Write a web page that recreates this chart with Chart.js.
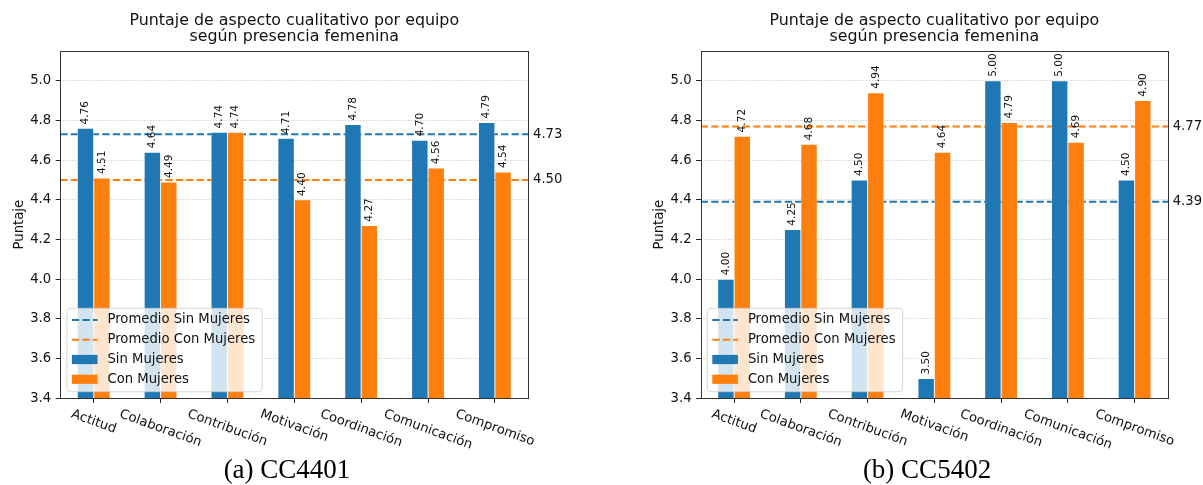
<!DOCTYPE html>
<html lang="es">
<head>
<meta charset="utf-8">
<title>Puntaje de aspecto cualitativo por equipo</title>
<script src="https://cdn.jsdelivr.net/npm/chart.js@4.4.0/dist/chart.umd.min.js"></script>
<style>
  html, body { margin: 0; padding: 0; background: #fff; }
  #page { position: relative; width: 1203px; height: 485px; overflow: hidden; }
  canvas { position: absolute; top: 0; }
  #graficoA { left: 0; }
  #graficoB { left: 600px; }
  .caption {
    position: absolute; top: 456px;
    font-family: 'Liberation Serif', 'DejaVu Serif', serif;
    font-size: 27px; line-height: 27px; color: #000;
    white-space: nowrap; transform: translateX(-50%);
  }
</style>
</head>
<body>
<div id="page">
  <canvas id="graficoA" width="600" height="485"></canvas>
  <canvas id="graficoB" width="603" height="485"></canvas>
  <div class="caption" style="left:287px">(a) CC4401</div>
  <div class="caption" style="left:927px">(b) CC5402</div>
</div>
<script>
// ---- data ----
const categorias = ['Actitud', 'Colaboración', 'Contribución', 'Motivación', 'Coordinación', 'Comunicación', 'Compromiso'];

const sinMujeresCC4401 = [4.76, 4.64, 4.74, 4.71, 4.78, 4.70, 4.79];
const conMujeresCC4401 = [4.51, 4.49, 4.74, 4.40, 4.27, 4.56, 4.54];
const promedioSinCC4401 = 4.73;
const promedioConCC4401 = 4.50;

const sinMujeresCC5402 = [4.00, 4.25, 4.50, 3.50, 5.00, 5.00, 4.50];
const conMujeresCC5402 = [4.72, 4.68, 4.94, 4.64, 4.79, 4.69, 4.90];
const promedioSinCC5402 = 4.39;
const promedioConCC5402 = 4.77;

const yTicks = [3.4, 3.6, 3.8, 4.0, 4.2, 4.4, 4.6, 4.8, 5.0];
const yMin = 3.4;
const yMax = 5.15;

const titulo = ['Puntaje de aspecto cualitativo por equipo', 'según presencia femenina'];
const etiquetaY = 'Puntaje';

// ---- style ----
const AZUL = '#1f77b4';
const NARANJA = '#ff7f0e';
const TEXTO = '#111';
const FUENTE = '"DejaVu Sans", sans-serif';
const PT = 1.32;            // px per typographic point at this size

Chart.defaults.font.family = FUENTE;
Chart.defaults.color = TEXTO;

// frame around the plotting area (all four spines)
const marcoPlugin = {
  id: 'marco',
  afterDraw(chart) {
    const { ctx, chartArea: a } = chart;
    ctx.save();
    ctx.strokeStyle = '#333';
    ctx.lineWidth = 1;
    const l = Math.round(a.left) + 0.5, t = Math.round(a.top) + 0.5;
    const r = Math.round(a.right) + 0.5, b = Math.round(a.bottom) + 0.5;
    ctx.strokeRect(l, t, r - l, b - t);
    ctx.restore();
  }
};

// value labels above every bar, rotated 90 degrees
const valoresPlugin = {
  id: 'valores',
  afterDatasetsDraw(chart) {
    const { ctx } = chart;
    ctx.save();
    ctx.font = (8 * PT) + 'px ' + FUENTE;
    ctx.fillStyle = TEXTO;
    ctx.textAlign = 'left';
    ctx.textBaseline = 'middle';
    chart.data.datasets.forEach((ds, i) => {
      if (ds.type !== 'bar') return;
      const meta = chart.getDatasetMeta(i);
      meta.data.forEach((bar, j) => {
        ctx.save();
        ctx.translate(bar.x, bar.y - 3 * PT);
        ctx.rotate(-Math.PI / 2);
        ctx.fillText(ds.data[j].toFixed(2), 0, 0);
        ctx.restore();
      });
    });
    ctx.restore();
  }
};

// numeric labels for the mean lines, just right of the frame
const promediosPlugin = {
  id: 'promedios',
  afterDatasetsDraw(chart) {
    const { ctx, chartArea: a } = chart;
    const y = chart.scales.y;
    ctx.save();
    ctx.font = (10 * PT) + 'px ' + FUENTE;
    ctx.fillStyle = TEXTO;
    ctx.textAlign = 'left';
    ctx.textBaseline = 'middle';
    chart.data.datasets.forEach(ds => {
      if (ds.type !== 'line') return;
      const v = ds.data[0].y;
      ctx.fillText(v.toFixed(2), a.right + 4.7, y.getPixelForValue(v));
    });
    ctx.restore();
  }
};

// category labels under the x axis, turned 20 degrees clockwise
const categoriasPlugin = {
  id: 'categoriasX',
  afterDraw(chart) {
    const { ctx, chartArea: a } = chart;
    const xs = chart.scales.x;
    const ang = 20 * Math.PI / 180;
    const size = 10 * PT;
    ctx.save();
    ctx.font = size + 'px ' + FUENTE;
    ctx.fillStyle = TEXTO;
    ctx.textAlign = 'center';
    ctx.textBaseline = 'middle';
    xs.getLabels().forEach((lab, i) => {
      const px = xs.getPixelForTick(i);
      const w = ctx.measureText(lab).width;
      const h = size;
      const H = w * Math.sin(ang) + h * Math.cos(ang);
      const cy = a.bottom + 7 * PT + H / 2;
      ctx.save();
      ctx.translate(px, cy);
      ctx.rotate(ang);
      ctx.fillText(lab, 0, 0);
      ctx.restore();
    });
    ctx.restore();
  }
};

// legend box in the lower-left corner of the plotting area
const leyendaPlugin = {
  id: 'leyenda',
  afterDraw(chart) {
    const { ctx, chartArea: a } = chart;
    const w = 195.3, h = 83.4, rad = 3.5;
    const x0 = a.left + 6.6, y0 = a.bottom - 6.6 - h;
    ctx.save();
    ctx.beginPath();
    ctx.moveTo(x0 + rad, y0);
    ctx.lineTo(x0 + w - rad, y0);
    ctx.arcTo(x0 + w, y0, x0 + w, y0 + rad, rad);
    ctx.lineTo(x0 + w, y0 + h - rad);
    ctx.arcTo(x0 + w, y0 + h, x0 + w - rad, y0 + h, rad);
    ctx.lineTo(x0 + rad, y0 + h);
    ctx.arcTo(x0, y0 + h, x0, y0 + h - rad, rad);
    ctx.lineTo(x0, y0 + rad);
    ctx.arcTo(x0, y0, x0 + rad, y0, rad);
    ctx.closePath();
    ctx.fillStyle = 'rgba(255,255,255,0.8)';
    ctx.fill();
    ctx.strokeStyle = 'rgba(204,204,204,0.8)';
    ctx.lineWidth = 1;
    ctx.stroke();

    ctx.font = (10 * PT) + 'px ' + FUENTE;
    ctx.textAlign = 'left';
    ctx.textBaseline = 'middle';
    chart.data.datasets.forEach((ds, i) => {
      const cy = y0 + 11.7 + i * 19.75;
      const hx0 = x0 + 5, hx1 = x0 + 30.6;
      if (ds.type === 'line') {
        ctx.save();
        ctx.strokeStyle = ds.borderColor;
        ctx.lineWidth = ds.borderWidth;
        ctx.setLineDash(ds.borderDash);
        ctx.beginPath();
        ctx.moveTo(hx0, cy);
        ctx.lineTo(hx1, cy);
        ctx.stroke();
        ctx.restore();
      } else {
        ctx.fillStyle = ds.backgroundColor;
        ctx.fillRect(hx0, cy - 4.6, hx1 - hx0, 9.2);
      }
      ctx.fillStyle = TEXTO;
      ctx.fillText(ds.label, x0 + 40.6, cy);
    });
    ctx.restore();
  }
};

function crearGrafico(id, sin, con, promSin, promCon, padIzq, padDer, anchoY) {
  const lineaPromedio = (label, valor, color) => ({
    type: 'line',
    label: label,
    data: [{ x: -0.5, y: valor }, { x: categorias.length - 0.5, y: valor }],
    xAxisID: 'xl',
    yAxisID: 'y',
    borderColor: color,
    borderWidth: 1.5 * PT,
    borderDash: [5.55 * PT, 2.4 * PT],
    pointRadius: 0,
    fill: false,
    tension: 0,
    order: 2
  });
  const barras = (label, valores, color) => ({
    type: 'bar',
    label: label,
    data: valores,
    xAxisID: 'x',
    yAxisID: 'y',
    backgroundColor: color,
    borderColor: 'rgba(255,255,255,0.45)',
    borderWidth: 0.8,
    barThickness: 16.4,
    order: 1
  });

  return new Chart(document.getElementById(id), {
    type: 'bar',
    data: {
      labels: categorias,
      datasets: [
        lineaPromedio('Promedio Sin Mujeres', promSin, AZUL),
        lineaPromedio('Promedio Con Mujeres', promCon, NARANJA),
        barras('Sin Mujeres', sin, AZUL),
        barras('Con Mujeres', con, NARANJA)
      ]
    },
    options: {
      responsive: false,
      animation: false,
      devicePixelRatio: 1,
      layout: { padding: { left: padIzq, right: padDer, top: 0, bottom: 0 } },
      plugins: {
        legend: { display: false },
        tooltip: { enabled: false },
        title: {
          display: true,
          text: titulo,
          fullSize: false,
          color: TEXTO,
          font: { family: FUENTE, size: 12 * PT, weight: 'normal', lineHeight: '16.3px' },
          padding: { top: 12.35, bottom: 6.05 }
        }
      },
      scales: {
        x: {
          type: 'category',
          offset: true,
          border: { display: false },
          grid: {
            display: true, drawOnChartArea: false, drawTicks: true,
            tickLength: 3.5 * PT, tickColor: '#222', tickWidth: 1, offset: false
          },
          ticks: { display: false },
          afterFit(s) { s.height = 485 - 398.3; }
        },
        xl: {
          type: 'linear', display: false, offset: false,
          grid: { offset: false },
          min: -0.5, max: categorias.length - 0.5
        },
        y: {
          type: 'linear',
          min: yMin,
          max: yMax,
          afterBuildTicks(s) { s.ticks = yTicks.map(v => ({ value: v })); },
          border: { display: false, dash: [1.5, 1.5] },
          grid: {
            color: 'rgba(0,0,0,0.17)', lineWidth: 1,
            drawTicks: true, tickLength: 3.5 * PT, tickColor: '#222',
            tickWidth: 1, tickBorderDash: []
          },
          ticks: {
            color: TEXTO, padding: 4.5,
            font: { size: 10 * PT },
            callback: v => Number(v).toFixed(1)
          },
          title: {
            display: true, text: etiquetaY, color: TEXTO,
            font: { size: 10 * PT }, padding: { top: 11.4, bottom: 0 }
          },
          afterFit(s) { s.width = anchoY; }
        }
      }
    },
    plugins: [valoresPlugin, promediosPlugin, marcoPlugin, categoriasPlugin, leyendaPlugin]
  });
}

crearGrafico('graficoA', sinMujeresCC4401, conMujeresCC4401, promedioSinCC4401, promedioConCC4401, 0, 71.7, 60.3);
crearGrafico('graficoB', sinMujeresCC5402, conMujeresCC5402, promedioSinCC5402, promedioConCC5402, 40, 35, 60.7);
</script>
</body>
</html>
